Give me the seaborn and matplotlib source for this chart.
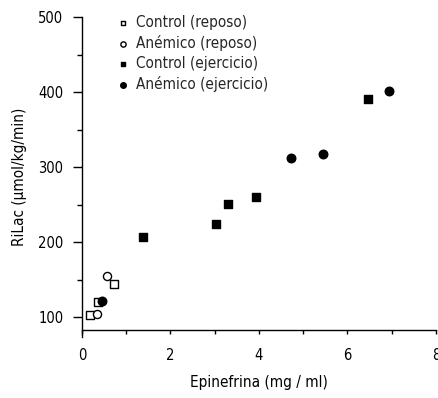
import matplotlib
matplotlib.use("Agg")
import matplotlib.pyplot as plt
import seaborn as sns
import pandas as pd
from matplotlib.ticker import MultipleLocator

sns.set_theme(style="white")
plt.rcParams['font.family'] = ['DejaVu Sans']
plt.rcParams['font.stretch'] = 'condensed'

groups = ["Control (reposo)", "Anémico (reposo)", "Control (ejercicio)", "Anémico (ejercicio)"]
ctrl_rep_x = [0.18, 0.36, 0.72]
ctrl_rep_y = [103, 121, 145]
anem_rep_x = [0.34, 0.56]
anem_rep_y = [105, 155]
ctrl_ej_x = [1.38, 3.02, 3.31, 3.93, 6.46]
ctrl_ej_y = [207, 224, 251, 261, 391]
anem_ej_x = [0.46, 4.72, 5.45, 6.94]
anem_ej_y = [122, 312, 318, 402]
x_ticks = [0, 2, 4, 6, 8]
y_ticks = [100, 200, 300, 400, 500]

xs = [ctrl_rep_x, anem_rep_x, ctrl_ej_x, anem_ej_x]
ys = [ctrl_rep_y, anem_rep_y, ctrl_ej_y, anem_ej_y]
rows = []
for g, gx, gy in zip(groups, xs, ys):
    for a, b in zip(gx, gy):
        rows.append({"grupo": g, "x": a, "y": b})
df = pd.DataFrame(rows)

styles = {
    "Control (reposo)": dict(marker="s", facecolor="white", s=30),
    "Anémico (reposo)": dict(marker="o", facecolor="white", s=34),
    "Control (ejercicio)": dict(marker="s", facecolor="black", s=30),
    "Anémico (ejercicio)": dict(marker="o", facecolor="black", s=38),
}

fig = plt.figure(figsize=(4.39, 3.98), dpi=100)
ax = fig.add_axes([82/439, 1-337/398, 354/439, 320/398])
for g in groups:
    st = styles[g]
    sub = df[df["grupo"] == g]
    sns.scatterplot(data=sub, x="x", y="y", ax=ax, marker=st["marker"],
                    s=st["s"], facecolor=st["facecolor"], edgecolor="black",
                    linewidth=1.0, label=g, zorder=3)

ax.set_xlim(0, 8)
ax.set_ylim(74, 500)
ax.set_xticks(x_ticks)
ax.xaxis.set_minor_locator(MultipleLocator(1))
ax.set_yticks(y_ticks)
ax.yaxis.set_minor_locator(MultipleLocator(50))
ax.spines['bottom'].set_position(('data', 83))
for sp in ["top", "right"]:
    ax.spines[sp].set_visible(False)
for sp in ["left", "bottom"]:
    ax.spines[sp].set_color("black")
    ax.spines[sp].set_linewidth(1.0)
ax.tick_params(axis="both", which="both", direction="out", color="black",
               width=1.0, labelsize=10.5, labelcolor="black", bottom=True, left=True)
ax.tick_params(axis="y", which="major", length=6.5, pad=7)
ax.tick_params(axis="y", which="minor", length=3.5)
ax.tick_params(axis="x", which="both", length=3, pad=9.5)
ax.set_xlabel("Epinefrina (mg / ml)", fontsize=11, color="black", labelpad=9)
ax.set_ylabel("RiLac (µmol/kg/min)", fontsize=11, color="black", labelpad=8)

leg = ax.legend(loc="upper left", bbox_to_anchor=(115/439, 1-15/398),
                bbox_transform=fig.transFigure, frameon=False,
                fontsize=11, handletextpad=0.4, labelspacing=0.33, markerscale=0.65,
                borderpad=0, borderaxespad=0, handlelength=1.0)

fig.savefig("out.png", dpi=100)
